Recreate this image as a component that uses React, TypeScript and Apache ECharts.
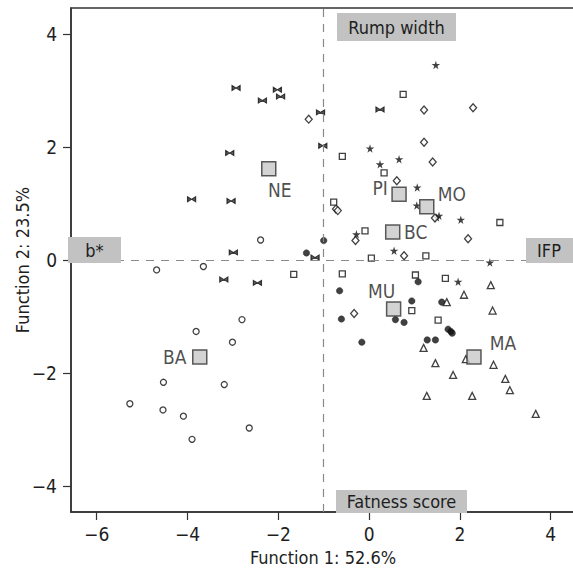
import { useEffect, useRef } from "react";
import * as echarts from "echarts";

// ---------- data ----------
const xTicks = [-6, -4, -2, 0, 2, 4];
const yTicks = [-4, -2, 0, 2, 4];

const pointsBA: [number, number][] = [
  [-4.68, -0.17], [-3.65, -0.11], [-2.80, -1.05], [-3.81, -1.26], [-3.01, -1.45],
  [-4.53, -2.16], [-3.19, -2.20], [-5.27, -2.54], [-4.54, -2.65], [-4.09, -2.76],
  [-2.64, -2.97], [-3.90, -3.17], [-2.39, 0.36],
];
const pointsNE: [number, number][] = [
  [-2.93, 3.05], [-2.02, 3.02], [-2.35, 2.83], [-1.95, 2.90], [-1.07, 2.62],
  [-3.07, 1.90], [-3.91, 1.08], [-3.04, 1.05], [-2.99, 0.14], [-1.19, 0.05],
  [-1.02, 2.03], [0.24, 2.67], [-3.20, -0.34], [-2.46, -0.40],
];
const pointsMU: [number, number][] = [
  [-1.38, 0.13], [-1.00, 0.35], [1.08, -0.38], [-0.65, -0.54], [0.94, -0.72],
  [1.60, -0.74], [-0.61, -1.04], [0.58, -1.05], [0.77, -1.10], [1.74, -1.22],
  [1.80, -1.26], [1.83, -1.29], [-0.16, -1.45], [1.28, -1.41], [1.46, -1.41],
];
const pointsMA: [number, number][] = [
  [2.68, -0.44], [2.09, -0.61], [1.71, -0.74], [2.72, -0.89], [1.20, -1.55],
  [2.13, -1.75], [1.46, -1.82], [2.74, -1.85], [1.85, -2.03], [3.00, -2.10],
  [3.10, -2.30], [1.27, -2.40], [2.27, -2.40], [3.67, -2.72],
];
const pointsMO: [number, number][] = [
  [1.47, 3.46], [0.02, 1.98], [0.66, 1.79], [0.24, 1.70], [1.06, 1.29],
  [1.05, 0.97], [1.49, 0.76], [1.54, 0.79], [2.02, 0.72], [-0.28, 0.46],
  [0.55, 0.17], [2.66, -0.04], [1.96, -0.38],
];
const pointsPI: [number, number][] = [
  [-1.33, 2.50], [1.21, 2.66], [2.29, 2.70], [1.21, 2.09], [1.40, 1.74],
  [0.61, 1.41], [1.45, 0.75], [-0.73, 0.91], [-0.69, 0.88], [-0.30, 0.35],
  [2.18, 0.38], [0.77, 0.08], [-0.33, -0.94],
];
const pointsBC: [number, number][] = [
  [0.75, 2.94], [-0.59, 1.84], [0.33, 1.55], [-0.78, 1.03], [2.88, 0.67],
  [-0.09, 0.52], [1.25, 0.08], [0.05, 0.04], [-1.66, -0.25], [-0.59, -0.24],
  [1.02, -0.26], [1.68, -0.32], [0.94, -0.89], [1.52, -1.06],
];

const centroidNames = ["NE", "PI", "MO", "BC", "MU", "MA", "BA"];
const centroidX = [-2.21, 0.66, 1.27, 0.52, 0.54, 2.31, -3.73];
const centroidY = [1.62, 1.17, 0.95, 0.50, -0.86, -1.71, -1.71];

const refLineX = -1;
const refLineY = 0;

const xTitle = "Function 1: 52.6%";
const yTitle = "Function 2: 23.5%";
const boxTop = "Rump width";
const boxBottom = "Fatness score";
const boxLeft = "b*";
const boxRight = "IFP";

// ---------- styles ----------
const FONT = "'DejaVu Sans Condensed', 'Liberation Sans', Arial, sans-serif";
const INK = "#1e1e1e";
const GREY_BOX = "#c2c2c2";

const labelOffsets: Record<string, [number, number]> = {
  NE: [11, 21],
  PI: [-19, -6],
  MO: [25, -13],
  BC: [23, 0],
  MU: [-12, -18],
  MA: [29, -14],
  BA: [-25, 0],
};

const STAR =
  "path://M50,0 L61,35 L98,35 L68,57 L79,91 L50,70 L21,91 L32,57 L2,35 L39,35 Z";
const BOWTIE = "path://M0,0 L0,10 L8,5 L16,10 L16,0 L8,5 Z";

const fmt = (v: number) => (v < 0 ? "\u2212" + Math.abs(v) : String(v));

function openStyle(lw = 1.3) {
  return { color: "#fff", borderColor: "#111", borderWidth: lw };
}

export default function App() {
  const ref = useRef<HTMLDivElement>(null);

  useEffect(() => {
    if (!ref.current) return;
    const chart = echarts.init(ref.current, undefined, { renderer: "svg" });

    const scatter = (name: string, data: [number, number][], symbol: string, size: any, itemStyle: any) => ({
      name,
      type: "scatter",
      data,
      symbol,
      symbolSize: size,
      itemStyle,
      z: 3,
      silent: true,
    });

    const textStyle = (fs: number) => ({ fontFamily: FONT, fontSize: fs, color: INK });

    const boxText = (text: string, x: number, y: number) => ({
      type: "text",
      x,
      y,
      z: 21,
      style: {
        text,
        fill: INK,
        font: `18px ${FONT}`,
        align: "center",
        verticalAlign: "middle",
        textAlign: "center",
        textVerticalAlign: "middle",
      },
    });

    const option: any = {
      animation: false,
      backgroundColor: "#fff",
      grid: {
        left: 71,
        right: -2,
        top: 8,
        bottom: 62,
        show: true,
        borderColor: "#333",
        borderWidth: 1.5,
        backgroundColor: "transparent",
        containLabel: false,
        outerBoundsMode: "none",
      },
      xAxis: {
        type: "value",
        min: -6.566,
        max: 4.535,
        name: xTitle,
        nameLocation: "middle",
        nameGap: 36,
        nameMoveOverlap: false,
        nameTextStyle: textStyle(18),
        axisLine: { show: true, onZero: false, lineStyle: { color: "#333", width: 1.5 } },
        axisTick: { show: true, length: 8, customValues: xTicks, lineStyle: { color: "#333", width: 1.2 } },
        axisLabel: { customValues: xTicks, formatter: fmt, margin: 12, ...textStyle(19) },
        splitLine: { show: false },
      },
      yAxis: {
        type: "value",
        min: -4.457,
        max: 4.468,
        name: yTitle,
        nameLocation: "middle",
        nameGap: 40,
        nameMoveOverlap: false,
        nameTextStyle: textStyle(18),
        axisLine: { show: true, onZero: false, lineStyle: { color: "#333", width: 1.5 } },
        axisTick: { show: true, length: 8, customValues: yTicks, lineStyle: { color: "#333", width: 1.2 } },
        axisLabel: { customValues: yTicks, formatter: fmt, margin: 14, ...textStyle(19) },
        splitLine: { show: false },
      },
      series: [
        {
          type: "scatter",
          data: [],
          silent: true,
          markLine: {
            silent: true,
            symbol: "none",
            label: { show: false },
            lineStyle: { color: "#8a8a8a", type: [8, 7], width: 1.2 },
            data: [{ xAxis: refLineX }, { yAxis: refLineY }],
          },
        },
        scatter("BA", pointsBA, "circle", 6, openStyle()),
        scatter("NE", pointsNE, BOWTIE, [8, 5], { color: "#333", borderColor: "#111", borderWidth: 1 }),
        scatter("MU", pointsMU, "circle", 6.5, { color: "#111", borderColor: "#111", borderWidth: 0.5 }),
        scatter("MA", pointsMA, "triangle", 7, openStyle()),
        scatter("MO", pointsMO, STAR, 8.5, { color: "#111" }),
        scatter("PI", pointsPI, "diamond", [7, 8], openStyle()),
        scatter("BC", pointsBC, "rect", 6, openStyle()),
        {
          name: "centroids",
          type: "scatter",
          symbol: "rect",
          symbolSize: 14,
          z: 5,
          silent: true,
          itemStyle: { color: "#c8c8c8", borderColor: "#333", borderWidth: 1.5 },
          data: centroidNames.map((n, i) => ({
            name: n,
            value: [centroidX[i], centroidY[i]],
            label: {
              show: true,
              formatter: n,
              position: "inside",
              offset: labelOffsets[n],
              align: "center",
              verticalAlign: "middle",
              ...textStyle(19),
            },
          })),
        },
      ],
      graphic: [
        { type: "rect", shape: { x: 337, y: 13, width: 119, height: 28 }, style: { fill: GREY_BOX }, z: 20 },
        boxText(boxTop, 396.5, 27),
        { type: "rect", shape: { x: 336, y: 490, width: 131, height: 23 }, style: { fill: GREY_BOX }, z: 20 },
        boxText(boxBottom, 401.5, 501),
        { type: "rect", shape: { x: 68, y: 237, width: 53, height: 26 }, style: { fill: GREY_BOX }, z: 20 },
        boxText(boxLeft, 94.5, 250),
        { type: "rect", shape: { x: 526, y: 238, width: 50, height: 25 }, style: { fill: GREY_BOX }, z: 20 },
        boxText(boxRight, 549, 250.5),
      ],
    };

    chart.setOption(option);
    return () => chart.dispose();
  }, []);

  return (
    <div
      ref={ref}
      style={{ position: "absolute", left: 0, top: 0, width: 573, height: 574, background: "#fff" }}
    />
  );
}
